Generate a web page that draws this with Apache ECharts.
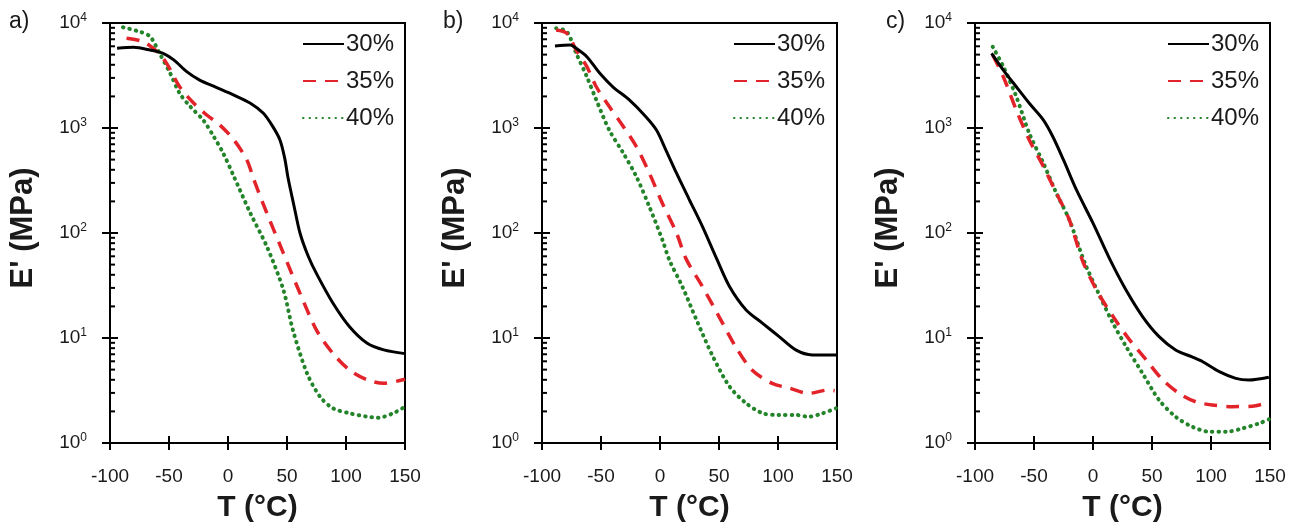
<!DOCTYPE html>
<html>
<head>
<meta charset="utf-8">
<script src="https://cdn.jsdelivr.net/npm/echarts@6/dist/echarts.min.js"></script>
<style>
  html, body { margin: 0; padding: 0; background: #fff; }
  #chart { width: 1291px; height: 528px; }
</style>
</head>
<body>
<div id="chart"></div>
<script>
// Storage modulus E' (MPa) versus temperature T (°C) for three formulations,
// each with 30 %, 35 % and 40 % content.
const panelLabels = ['a)', 'b)', 'c)'];
const seriesNames = ['30%', '35%', '40%'];
const xTicks = [-100, -50, 0, 50, 100, 150];
const yDecades = [1, 10, 100, 1000, 10000];
const yMinorSteps = [2, 3, 4, 5, 6, 7, 8, 9];

// panel a
const a30T = [-94, -80, -66, -55, -46, -35, -24, -10, 5, 19, 30, 38, 44, 48, 51, 56, 61, 68, 75, 89, 103, 118, 132, 150];
const a30E = [5740, 5860, 5530, 5140, 4450, 3440, 2860, 2440, 2060, 1720, 1380, 1030, 770, 520, 330, 180, 100, 60, 41, 21.4, 12.8, 8.9, 7.7, 7.1];
const a35T = [-86, -72, -60, -52, -41, -29, -18, -7, 5, 16, 22, 33, 47, 61, 75, 89, 103, 118, 132, 150];
const a35E = [7140, 6640, 5330, 4130, 2470, 1720, 1330, 1070, 770, 496, 320, 154, 64, 26.7, 11.9, 7.1, 4.95, 4.0, 3.7, 4.05];
const a40T = [-89, -75, -66, -58, -49, -41, -32, -21, -12, -4, 5, 19, 33, 47, 55, 67, 78, 89, 103, 118, 127, 140, 150];
const a40E = [9100, 8280, 7420, 5140, 3320, 2140, 1600, 1190, 826, 574, 345, 154, 74, 28.6, 11.9, 4.6, 2.76, 2.14, 1.92, 1.78, 1.74, 1.92, 2.22];

// panel b
const b30T = [-89, -76, -71, -62, -51, -40, -26, -12, -3, 5, 14, 25, 36, 48, 59, 73, 87, 101, 115, 129, 150];
const b30E = [6040, 6170, 5740, 4780, 3320, 2470, 1850, 1280, 955, 617, 371, 206, 115, 57, 30.8, 18.5, 13.8, 10.3, 7.7, 6.9, 6.9];
const b35T = [-88, -79, -71, -62, -54, -43, -31, -20, -9, 2, 14, 22, 36, 50, 64, 78, 95, 110, 126, 143, 148];
const b35E = [8580, 7970, 5530, 3840, 2470, 1600, 1030, 664, 371, 192, 100, 57, 30.8, 16, 8.3, 4.95, 3.7, 3.32, 2.97, 3.2, 3.15];
const b40T = [-88, -79, -71, -62, -54, -43, -31, -20, -9, 2, 8, 19, 31, 45, 59, 73, 87, 101, 115, 126, 138, 149];
const b40E = [8900, 8280, 5140, 3080, 1850, 955, 574, 344, 178, 86, 55, 30.8, 14.8, 6.6, 3.44, 2.39, 1.92, 1.85, 1.85, 1.78, 1.92, 2.14];

// panel c
const c30T = [-86, -76, -65, -54, -42, -34, -25, -14, 0, 14, 28, 42, 56, 70, 84, 93, 107, 121, 132, 149];
const c30E = [5140, 3560, 2470, 1720, 1190, 826, 496, 257, 124, 57, 28.6, 16, 10.3, 7.7, 6.6, 5.94, 4.78, 4.13, 3.98, 4.23];
const c35T = [-85, -76, -65, -54, -42, -31, -20, -9, 3, 17, 31, 45, 59, 73, 87, 101, 118, 135, 148];
const c35E = [4960, 3080, 1480, 770, 429, 239, 133, 55, 28.6, 16, 9.6, 6.2, 4.0, 2.97, 2.47, 2.3, 2.22, 2.24, 2.42];
const c40T = [-85, -76, -65, -54, -42, -31, -20, -7, 6, 17, 28, 42, 56, 70, 84, 99, 113, 127, 141, 149];
const c40E = [5940, 3840, 1990, 889, 461, 239, 133, 52, 24.8, 13.8, 8.3, 4.6, 2.57, 1.78, 1.43, 1.28, 1.28, 1.38, 1.54, 1.68];

const panels = [
  [[a30T, a30E], [a35T, a35E], [a40T, a40E]],
  [[b30T, b30E], [b35T, b35E], [b40T, b40E]],
  [[c30T, c30E], [c35T, c35E], [c40T, c40E]]
];

const FONT = '"Liberation Sans", Arial, sans-serif';
const INK = '#1a1a1a';
const gridLefts = [110, 542, 975];
const GRID_TOP = 23, GRID_W = 295, GRID_H = 420;
const legendLefts = [302, 733, 1167];
const labelLefts = [9, 443, 886];

const lineStyles = [
  { color: '#000000', width: 3, type: 'solid' },
  { color: '#e3232a', width: 3.5, type: [13, 9] },
  { color: '#23842a', width: 4, type: [0.5, 6], cap: 'round' }
];

const pairs = (t, e) => t.map((v, i) => [v, e[i]]);

// tick marks: y majors cross the axis, y minors point inward, x majors cross the axis
function tickData() {
  const d = [];
  yDecades.forEach(v => d.push([xTicks[0], v, 0]));
  yDecades.slice(0, -1).forEach(dec => yMinorSteps.forEach(m => d.push([xTicks[0], dec * m, 1])));
  xTicks.forEach(v => d.push([v, yDecades[0], 2]));
  return d;
}

function renderTick(params, api) {
  const p = api.coord([api.value(0), api.value(1)]);
  const kind = api.value(2);
  let shape;
  if (kind === 0) shape = { x1: p[0] - 8, y1: p[1], x2: p[0] + 8, y2: p[1] };
  else if (kind === 1) shape = { x1: p[0], y1: p[1], x2: p[0] + 5, y2: p[1] };
  else shape = { x1: p[0], y1: p[1] - 7, x2: p[0], y2: p[1] + 7 };
  return { type: 'line', shape: shape, style: { stroke: '#000', lineWidth: 2 } };
}

const option = {
  backgroundColor: '#ffffff',
  animation: false,
  title: panelLabels.map((t, i) => ({
    text: t, left: labelLefts[i], top: 10, padding: 0,
    textStyle: { fontFamily: FONT, fontSize: 23, fontWeight: 'normal', color: INK }
  })),
  legend: legendLefts.map(l => ({
    data: seriesNames, orient: 'vertical', left: l, top: 32, padding: 0,
    itemWidth: 41, itemHeight: 14, itemGap: 13, selectedMode: false,
    itemStyle: { opacity: 0, borderWidth: 0 },
    textStyle: { fontFamily: FONT, fontSize: 24, color: INK, padding: [0, 0, 0, -3] }
  })),
  grid: gridLefts.map(l => ({
    left: l, top: GRID_TOP, width: GRID_W, height: GRID_H,
    show: true, borderColor: '#000', borderWidth: 2, backgroundColor: 'transparent'
  })),
  xAxis: gridLefts.map((_, i) => ({
    type: 'value', gridIndex: i, min: -100, max: 150, interval: 50,
    name: 'T (°C)', nameLocation: 'middle', nameGap: 50,
    nameTextStyle: { fontFamily: FONT, fontSize: 30, fontWeight: 'bold', color: INK },
    axisLine: { show: true, onZero: false, lineStyle: { color: '#000', width: 2 } },
    axisTick: { show: false },
    axisLabel: { fontFamily: FONT, fontSize: 19, color: INK, margin: 24 },
    splitLine: { show: false }
  })),
  yAxis: gridLefts.map((_, i) => ({
    type: 'log', gridIndex: i, min: 1, max: 10000, logBase: 10,
    name: "E' (MPa)", nameLocation: 'middle', nameGap: 71,
    nameTextStyle: { fontFamily: FONT, fontSize: 31, fontWeight: 'bold', color: INK, padding: [0, 0, 0, 10] },
    axisLine: { show: true, onZero: false, lineStyle: { color: '#000', width: 2 } },
    axisTick: { show: false },
    minorTick: { show: false },
    axisLabel: {
      margin: 23,
      formatter: v => '{b|10}{s|' + Math.round(Math.log10(v)) + '}',
      rich: {
        b: { fontFamily: FONT, fontSize: 19, color: INK, lineHeight: 22 },
        s: { fontFamily: FONT, fontSize: 12, color: INK, verticalAlign: 'top', lineHeight: 12 }
      }
    },
    splitLine: { show: false }
  })),
  series: []
};

panels.forEach((panel, i) => {
  panel.forEach((s, k) => {
    option.series.push({
      type: 'line', name: seriesNames[k], xAxisIndex: i, yAxisIndex: i,
      data: pairs(s[0], s[1]), symbol: 'none', showSymbol: false,
      smooth: 0.3, clip: true,
      lineStyle: lineStyles[k], itemStyle: { color: lineStyles[k].color },
      z: 3 - k + 2
    });
  });
  option.series.push({
    type: 'custom', name: 'ticks', xAxisIndex: i, yAxisIndex: i,
    data: tickData(), renderItem: renderTick, silent: true, clip: false, z: 10
  });
});

const chart = echarts.init(document.getElementById('chart'), null, { renderer: 'canvas' });
chart.setOption(option);
</script>
</body>
</html>
